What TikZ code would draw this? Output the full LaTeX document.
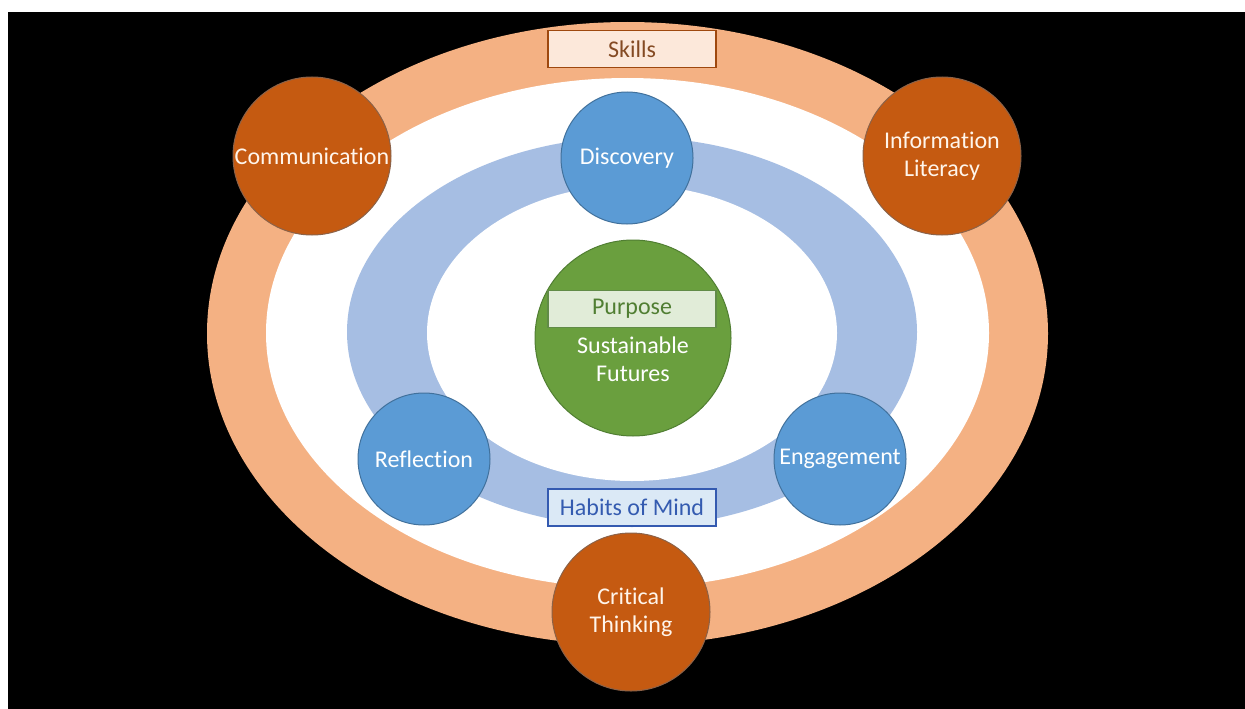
\documentclass[tikz,border=0pt]{standalone}
\usepackage{fontspec}
\setmainfont{Carlito}[Ligatures=NoCommon]
\usetikzlibrary{positioning}
\definecolor{skillorange}{HTML}{C55A11}
\definecolor{skillborder}{HTML}{8C6248}
\definecolor{ringorange}{HTML}{F4B183}
\definecolor{ringblue}{HTML}{A6BEE3}
\definecolor{habitblue}{HTML}{5B9BD5}
\definecolor{habitborder}{HTML}{41719C}
\definecolor{purposegreen}{HTML}{6A9F3E}
\definecolor{purposeborder}{HTML}{507E32}
\tikzset{
    ring/.style={fill=#1},
    skill circle/.style={circle,fill=skillorange,draw=skillborder,line width=1pt,
        minimum size=158,inner sep=0pt,align=center,text=white!92!orange},
    habit circle/.style={circle,fill=habitblue,draw=habitborder,line width=1pt,
        minimum size=132,inner sep=0pt,align=center,text=white},
    purpose circle/.style={circle,fill=purposegreen,draw=purposeborder,line width=1pt,
        minimum size=196,inner sep=0pt},
    label box/.style={draw=#1,line width=1.2pt,minimum width=168,minimum height=37,inner sep=0pt},
}
\tikzstyle{every node}=[font=\fontsize{24}{28}\selectfont]

\begin{document}
\begin{tikzpicture}[x=1pt,y=-1pt]
        \useasboundingbox (0,0) rectangle (1245,709);
        \fill[white] (0,0) rectangle (1245,709);
        \fill[black] (8,12) rectangle (1245,709);

        % rings
        \fill[ring=ringorange] (627.5,333.5) ellipse [x radius=420.5,y radius=311.5];
        \fill[ring=white] (627.5,333) ellipse [x radius=361.5,y radius=255];
        \fill[ring=ringblue] (632,332) ellipse [x radius=285,y radius=195];
        \fill[ring=white] (632,333) ellipse [x radius=205,y radius=148];

        \node[label box=skillorange!80!black,fill=ringorange!30!white,text=skillorange!60!black!90!white] (skills) at (632,49) {Skills};
        \node[label box=habitborder!80!blue,fill=habitblue!22!white,text=habitborder!80!blue] (habits) at (632,507.5) {Habits of Mind};

        \node[purpose circle] (purpose) at (633,338) {};
        \node[label box=purposeborder!90!white,fill=purposegreen!20!white,text=purposeborder] (purposebox) at (632,309) {Purpose};
        \node[text=white,align=center] (futures) at (633,359) {Sustainable\\Futures};

        \node[habit circle] (discovery) at (627,158) {Discovery};
        \node[habit circle] (reflection) at (424,459) {Reflection};
        \node[habit circle] (engagement) at (840,459) {Engagement};

        \node[skill circle] (communication) at (312,156) {Communication};
        \node[skill circle] (infolit) at (942,156) {Information\\Literacy};
        \node[skill circle] (critical) at (631,612) {Critical\\Thinking};
    \end{tikzpicture}
\end{document}
